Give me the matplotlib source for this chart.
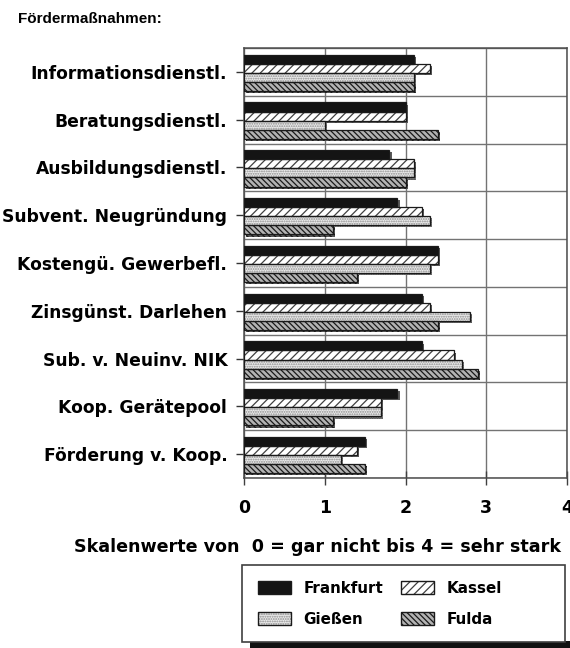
import matplotlib
matplotlib.use("Agg")
import matplotlib.pyplot as plt
import matplotlib.patheffects as pe
from matplotlib.patches import Rectangle, Patch
from matplotlib.legend_handler import HandlerTuple
import numpy as np

# --- data -----------------------------------------------------------------
categories = [
    "Informationsdienstl.",
    "Beratungsdienstl.",
    "Ausbildungsdienstl.",
    "Subvent. Neugründung",
    "Kostengü. Gewerbefl.",
    "Zinsgünst. Darlehen",
    "Sub. v. Neuinv. NIK",
    "Koop. Gerätepool",
    "Förderung v. Koop.",
]
frankfurt = [2.1, 2.0, 1.8, 1.9, 2.4, 2.2, 2.2, 1.9, 1.5]
kassel = [2.3, 2.0, 2.1, 2.2, 2.4, 2.3, 2.6, 1.7, 1.4]
giessen = [2.1, 1.0, 2.1, 2.3, 2.3, 2.8, 2.7, 1.7, 1.2]
fulda = [2.1, 2.4, 2.0, 1.1, 1.4, 2.4, 2.9, 1.1, 1.5]
series_names = ["Frankfurt", "Kassel", "Gießen", "Fulda"]
x_ticks = [0, 1, 2, 3, 4]
title_text = "Fördermaßnahmen:"
xlabel_text = "Skalenwerte von  0 = gar nicht bis 4 = sehr stark"

# --- styling --------------------------------------------------------------
W, H = 570, 648
FONT = "DejaVu Sans"
plt.rcParams["font.family"] = [FONT]
plt.rcParams["font.weight"] = "bold"
plt.rcParams["hatch.linewidth"] = 0.9

styles = [
    dict(face="#141414", hatch=None, hcolor="#141414"),
    dict(face="white", hatch="////", hcolor="0.25"),
    dict(face="0.92", hatch=".......", hcolor="0.55"),
    dict(face="0.7", hatch="\\\\\\\\\\\\", hcolor="0.1"),
]

fig = plt.figure(figsize=(W / 100, H / 100), dpi=100)
ax = fig.add_axes([244 / W, 1 - 478 / H, (567 - 244) / W, (478 - 48) / H])

y = np.arange(len(categories))
series = [frankfurt, kassel, giessen, fulda]
bar_h = 0.19
offsets = [-0.285, -0.095, 0.095, 0.285]
shadow = [pe.SimplePatchShadow(offset=(1.6, -1.6), shadow_rgbFace="0.35", alpha=1.0),
          pe.Normal()]

legend_handles = []
for vals, st, off, name in zip(series, styles, offsets, series_names):
    with plt.rc_context({"hatch.color": st["hcolor"]}):
        bars = ax.barh(y + off + 0.02, vals, height=bar_h, color=st["face"],
                       hatch=st["hatch"], linewidth=0, zorder=3)
        swatch = Patch(facecolor=st["face"], hatch=st["hatch"], linewidth=0)
    for b in bars:
        b.set_path_effects(shadow)
    # thin dark outline on top of the fill
    ax.barh(y + off + 0.02, vals, height=bar_h, fill=False,
            edgecolor="0.1", linewidth=0.9, zorder=4)
    legend_handles.append((swatch, Patch(fill=False, edgecolor="0.1", linewidth=1.0)))

ax.set_xlim(0, 4)
ax.set_ylim(len(categories) - 0.5, -0.5)

ax.set_xticks(x_ticks)
ax.set_xticklabels([str(t) for t in x_ticks], fontsize=12.5, fontweight="bold")
ax.set_yticks(y)
ax.set_yticklabels(categories, fontsize=12.3, fontweight="bold")
ax.set_yticks(np.arange(len(categories) + 1) - 0.5, minor=True)

ax.tick_params(axis="y", which="major", direction="out", length=6, width=1,
               pad=6, color="0.2")
ax.tick_params(axis="y", which="minor", length=0)
ax.tick_params(axis="x", which="major", direction="inout", length=10, width=1,
               pad=10, color="0.25")

ax.grid(axis="x", which="major", color="0.45", linewidth=1, zorder=1)
ax.grid(axis="y", which="minor", color="0.45", linewidth=1, zorder=1)
ax.set_axisbelow(True)
for sp in ax.spines.values():
    sp.set_color("0.3")
    sp.set_linewidth(1.1)

fig.text(18 / W, 1 - 19 / H, title_text, fontsize=11, fontweight="bold",
         family=["Liberation Sans", "DejaVu Sans"],
         va="center", ha="left")
fig.text(318 / W, 1 - 547 / H, xlabel_text, fontsize=12.6, fontweight="bold",
         va="center", ha="center")

# --- legend box with a heavy shadow along its lower edge -------------------
bx0, by0, bx1, by1 = 242, 565, 565, 642
fig.patches.append(Rectangle(((bx0 + 8) / W, 1 - (by1 + 7) / H),
                             (W - bx0 - 8) / W, 8 / H,
                             transform=fig.transFigure, facecolor="#111111",
                             edgecolor="none", zorder=1))
fig.patches.append(Rectangle((bx0 / W, 1 - by1 / H),
                             (bx1 - bx0) / W, (by1 - by0) / H,
                             transform=fig.transFigure, facecolor="white",
                             edgecolor="0.25", linewidth=1.2, zorder=2))
order = [0, 2, 1, 3]
leg = fig.legend([legend_handles[i] for i in order], [series_names[i] for i in order],
                 handler_map={tuple: HandlerTuple(ndivide=1, pad=0)},
                 ncol=2, loc="upper left", bbox_to_anchor=(258 / W, 1 - 581 / H),
                 frameon=False, borderpad=0, borderaxespad=0,
                 prop=dict(family=FONT, weight="bold", size=10.9),
                 handlelength=2.15, handleheight=0.95, handletextpad=0.85,
                 columnspacing=1.2, labelspacing=1.05)
leg.set_zorder(5)

fig.savefig("out.png", dpi=100)
